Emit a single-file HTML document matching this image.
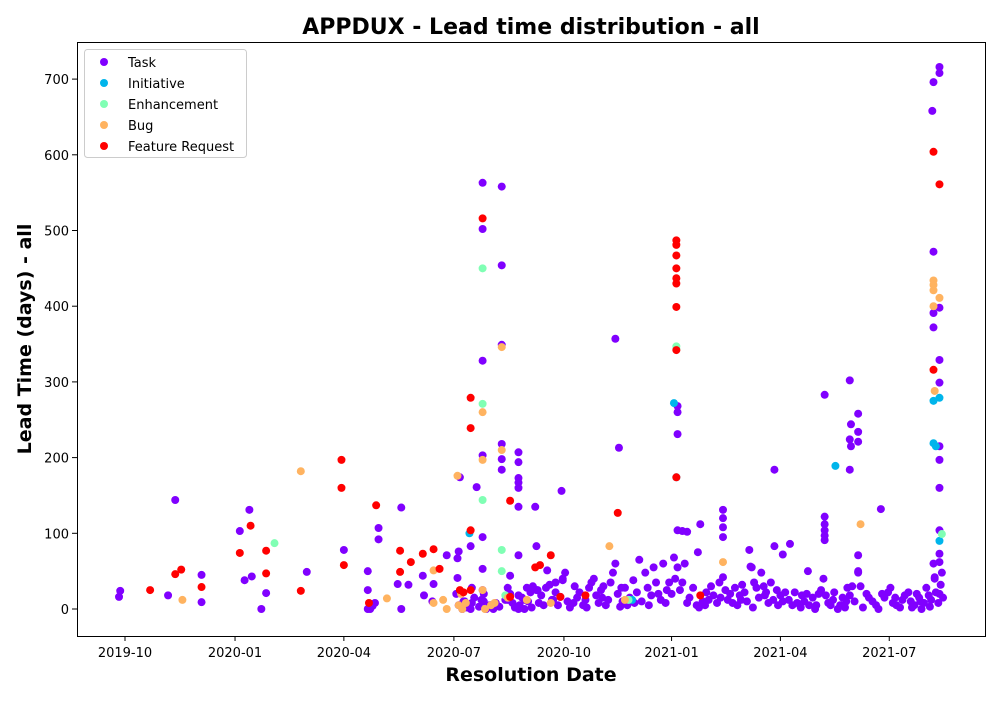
<!DOCTYPE html>
<html><head><meta charset="utf-8"><style>
body{margin:0;background:#fff;font-family:"Liberation Sans","DejaVu Sans",sans-serif}
svg text{font-family:"DejaVu Sans","Liberation Sans",sans-serif}
</style></head><body>
<svg id="chart" width="1000" height="700" xmlns="http://www.w3.org/2000/svg">
<rect width="1000" height="700" fill="#fff"/>
<text x="531" y="34" text-anchor="middle" font-size="22" font-weight="bold">APPDUX - Lead time distribution - all</text>
<text transform="translate(31,339) rotate(-90)" text-anchor="middle" font-size="19" font-weight="bold">Lead Time (days) - all</text>
<text x="531" y="681" text-anchor="middle" font-size="19" font-weight="bold">Resolution Date</text>
<g id="marks"></g>
<g id="axes"></g>
<rect x="77.5" y="42.5" width="908" height="594" fill="none" stroke="#000" stroke-width="1"/>
<g id="legend"></g>
</svg>
<script>
// days since 2019-10-01
const xTickDays = [0, 92, 183, 275, 367, 457, 548, 639];
const xTickLabels = ["2019-10","2020-01","2020-04","2020-07","2020-10","2021-01","2021-04","2021-07"];
const yTicks = [0,100,200,300,400,500,600,700];
const seriesNames = ["Task","Initiative","Enhancement","Bug","Feature Request"];
const seriesColors = ["#8000ff","#00b5eb","#80ffb4","#ffb360","#ff0000"];
const taskPoints = [[-5,16],[-4,24],[36,18],[42,144],[64,9],[64,45],[96,103],[100,38],[104,131],[106,43],[114,0],[118,21],[152,49],[183,78],[203,50],[203,0],[205,0],[207,4],[209,8],[203,25],[212,92],[212,107],[231,134],[231,0],[228,33],[237,32],[249,44],[250,18],[258,33],[257,10],[269,71],[278,67],[279,76],[278,41],[277,20],[279,5],[283,10],[280,174],[289,83],[289,0],[290,28],[294,161],[299,563],[299,502],[299,328],[299,203],[299,95],[299,53],[299,25],[300,10],[306,5],[308,0],[315,558],[315,454],[315,349],[315,198],[315,184],[315,218],[322,44],[320,12],[329,207],[329,194],[329,173],[329,167],[329,160],[329,135],[329,71],[329,18],[329,0],[334,12],[336,28],[343,135],[344,83],[344,25],[353,51],[357,12],[360,22],[365,156],[366,38],[364,16],[410,357],[413,213],[462,231],[462,268],[462,260],[462,104],[466,103],[470,102],[479,75],[481,112],[500,131],[500,120],[500,108],[500,95],[522,78],[523,56],[543,184],[543,83],[550,72],[556,86],[571,50],[585,283],[585,122],[585,112],[585,104],[585,97],[585,91],[606,302],[607,244],[606,184],[606,224],[607,215],[613,234],[613,221],[613,258],[613,71],[613,50],[632,132],[675,658],[676,696],[681,708],[681,716],[676,472],[676,391],[676,372],[681,398],[681,329],[681,299],[681,215],[681,197],[681,160],[681,104],[681,73],[681,62],[677,40],[681,20],
[280,5],[282,0],[284,10],[286,2],[290,8],[292,15],[296,3],[298,12],[300,20],[302,0],[305,5],[310,8],[313,3],[318,12],[320,28],[322,20],[324,8],[326,2],[330,5],[332,15],[334,0],[337,10],[339,22],[341,30],[345,25],[348,18],[350,5],[352,28],[355,32],[358,12],[360,35],[362,5],[366,40],[368,48],[370,10],[372,2],[375,8],[378,15],[380,22],[383,5],[385,12],[388,28],[390,35],[392,40],[394,18],[396,8],[398,25],[400,30],[402,5],[404,12],[406,35],[408,48],[410,60],[412,20],[414,3],[416,10],[418,28],[420,5],[422,15],[425,38],[428,22],[430,65],[432,10],[435,48],[437,28],[440,18],[442,55],[444,35],[446,20],[448,12],[450,60],[452,8],[455,35],[457,20],[459,68],[460,40],[462,55],[464,25],[466,35],[470,8],[472,15],[475,28],[478,5],[480,2],[483,10],[486,22],[488,12],[490,30],[492,18],[495,8],[497,35],[500,42],[502,25],[504,12],[506,20],[508,8],[510,28],[512,5],[514,18],[516,32],[518,22],[520,10],[524,55],[526,35],[528,28],[530,15],[532,48],[534,30],[536,22],[538,8],[540,35],[542,12],[545,25],[548,18],[550,10],[552,22],[555,12],[558,5],[560,22],[562,8],[565,2],[568,10],[570,20],[572,5],[575,15],[577,0],[580,20],[582,25],[584,40],[586,18],[588,8],[590,5],[593,22],[596,0],[598,5],[600,15],[602,2],[604,28],[606,18],[608,30],[610,10],[613,48],[615,30],[617,2],[620,20],[625,10],[630,0],[635,15],[638,22],[640,28],[642,8],[645,5],[648,2],[650,12],[652,18],[655,22],[657,10],[660,5],[662,20],[664,15],[666,0],[668,8],[670,28],[672,18],[674,12],[676,60],[677,42],[678,22],[680,8],[682,32],[683,48],[684,15],[340,2],[346,8],[376,30],[386,2],[399,15],[415,28],[426,8],[438,5],[453,25],[468,60],[485,5],[498,15],[515,12],[525,2],[535,18],[546,5],[566,18],[578,5],[592,12],[603,10],[622,15],[628,5],[633,20],[644,15],[658,2],[665,10],[673,3]];
const initiativePoints = [[288,100],[459,272],[461,174],[424,12],[594,189],[676,275],[681,279],[676,219],[678,215],[681,90]];
const enhancementPoints = [[125,87],[299,450],[299,271],[299,144],[315,78],[315,50],[318,18],[461,347],[461,343],[683,99],[421,12]];
const bugPoints = [[48,12],[147,182],[219,14],[258,51],[258,8],[266,12],[269,0],[278,176],[279,5],[282,0],[285,8],[281,20],[299,260],[299,197],[299,25],[301,0],[306,5],[309,8],[315,346],[315,210],[320,15],[336,12],[356,8],[405,83],[418,12],[500,62],[615,112],[676,434],[676,428],[676,421],[676,400],[681,411],[677,288]];
const featurePoints = [[21,25],[42,46],[47,52],[64,29],[96,74],[105,110],[118,77],[118,47],[147,24],[181,197],[181,160],[183,58],[204,8],[210,137],[230,77],[230,49],[239,62],[249,73],[258,79],[263,53],[280,25],[283,22],[289,239],[289,279],[289,104],[289,25],[299,516],[322,16],[322,143],[343,55],[347,58],[356,71],[364,16],[385,18],[412,127],[461,342],[461,399],[461,430],[461,437],[461,450],[461,467],[461,481],[461,487],[461,174],[481,18],[676,316],[676,604],[681,561]];
const allSeries = [taskPoints, initiativePoints, enhancementPoints, bugPoints, featurePoints];

const NS = "http://www.w3.org/2000/svg";
function xScale(d){ return 125 + d * 1.196; }
function yScale(v){ return 609 - v * 0.757; }
function mk(tag, attrs, parent){ const e=document.createElementNS(NS,tag); for(const k in attrs) e.setAttribute(k, attrs[k]); parent.appendChild(e); return e; }

const marks = document.getElementById("marks");
allSeries.forEach((pts, si) => {
  const g = mk("g", {}, marks);
  
  
  pts.forEach(p => {
    const c = mk("circle", {cx: xScale(p[0]), cy: yScale(p[1]), r: 4, fill: seriesColors[si]}, g);
    
    
  });
});

const axes = document.getElementById("axes");
xTickDays.forEach((d, i) => {
  const x = xScale(d);
  const t = mk("line", {x1:x, x2:x, y1:636, y2:641, stroke:"#000"}, axes);
  
  
  const l = mk("text", {x:x, y:657, "text-anchor":"middle", "font-size":"13"}, axes);
  l.textContent = xTickLabels[i];
  
  
});
yTicks.forEach(v => {
  const y = yScale(v);
  const t = mk("line", {x1:72, x2:77, y1:y, y2:y, stroke:"#000"}, axes);
  
  
  const l = mk("text", {x:69, y:y+5, "text-anchor":"end", "font-size":"13"}, axes);
  l.textContent = v;
  
  
});

const legend = document.getElementById("legend");
const box = mk("rect", {x:84.5, y:49.5, width:162, height:108, rx:3, fill:"#fff", "fill-opacity":"0.8", stroke:"#ccc"}, legend);


seriesNames.forEach((n, i) => {
  const y = 62 + i * 21;
  const c = mk("circle", {cx:104, cy:y, r:4, fill:seriesColors[i]}, legend);
  
  
  const t = mk("text", {x:128, y:y+5, "font-size":"13"}, legend);
  t.textContent = n;
  
  
});
</script>
</body></html>
